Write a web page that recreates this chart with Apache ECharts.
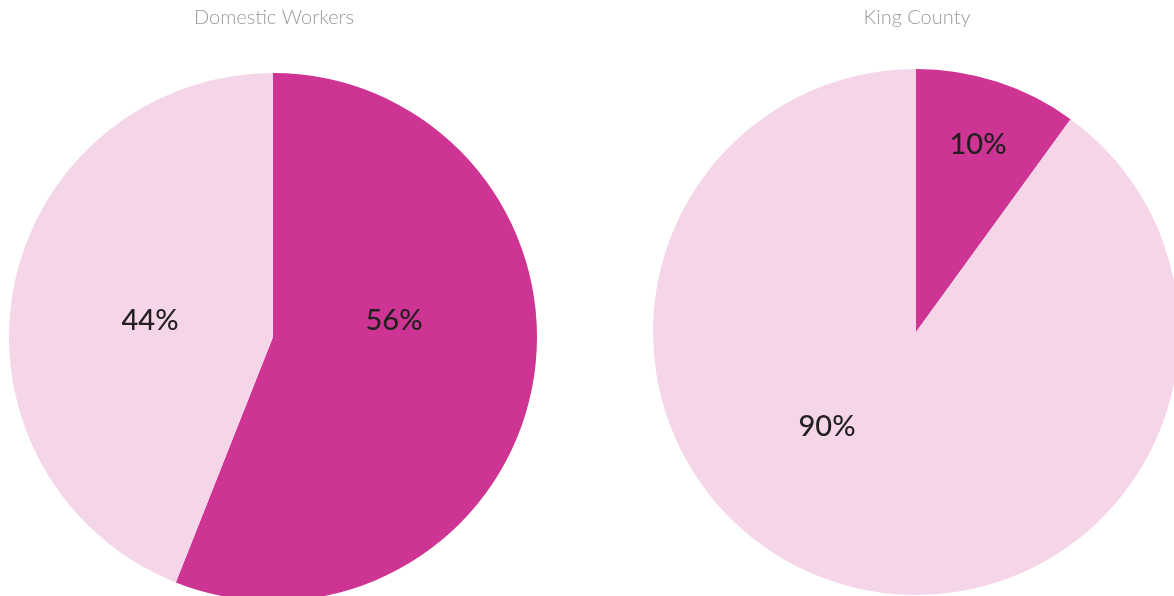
<!DOCTYPE html>
<html>
<head>
<meta charset="utf-8">
<script src="https://cdn.jsdelivr.net/npm/echarts@6/dist/echarts.min.js"></script>
<style>
  html, body { margin: 0; padding: 0; background: #fff; }
  #chart { width: 1174px; height: 596px; }
</style>
</head>
<body>
<div id="chart"></div>
<script>
    // data
    var titles = ['Domestic Workers', 'King County'];
    var sliceNames = ['Group', 'Rest'];
    var domesticValues = [56, 44];
    var kingCountyValues = [10, 90];

    var colors = ['#ce3494', '#f5d6e9'];
    var centers = [[273, 337], [916, 332]];
    var radii = [264, 263];
    // label offsets from pie centre (px)
    var labelOffsets = [
        [[121, -16], [-123, -16]],
        [[62, -187], [-89, 95]]
    ];

    function makePie (idx, values) {
        return {
            type: 'pie',
            center: centers[idx],
            radius: radii[idx],
            startAngle: 90,
            clockwise: true,
            silent: true,
            data: values.map(function (v, i) {
                return {
                    name: sliceNames[i],
                    value: v,
                    itemStyle: { color: colors[i] }
                };
            }),
            label: {
                show: true,
                position: 'inside',
                formatter: '{c}%',
                color: '#231f20',
                fontFamily: 'Lato',
                fontSize: 29,
                fontWeight: 500
            },
            labelLine: { show: false },
            labelLayout: function (params) {
                var off = labelOffsets[idx][params.dataIndex];
                return {
                    x: centers[idx][0] + off[0],
                    y: centers[idx][1] + off[1],
                    align: 'center',
                    verticalAlign: 'middle'
                };
            }
        };
    }

    var chart = echarts.init(document.getElementById('chart'));
    chart.setOption({
        animation: false,
        title: titles.map(function (t, i) {
            return {
                text: t,
                left: centers[i][0] - 4,
                top: 3,
                textAlign: 'center',
                textStyle: {
                    color: '#9a9a9a',
                    fontFamily: 'Lato',
                    fontWeight: 300,
                    fontSize: 20
                }
            };
        }),
        series: [
            makePie(0, domesticValues),
            makePie(1, kingCountyValues)
        ]
    });
</script>
</body>
</html>
